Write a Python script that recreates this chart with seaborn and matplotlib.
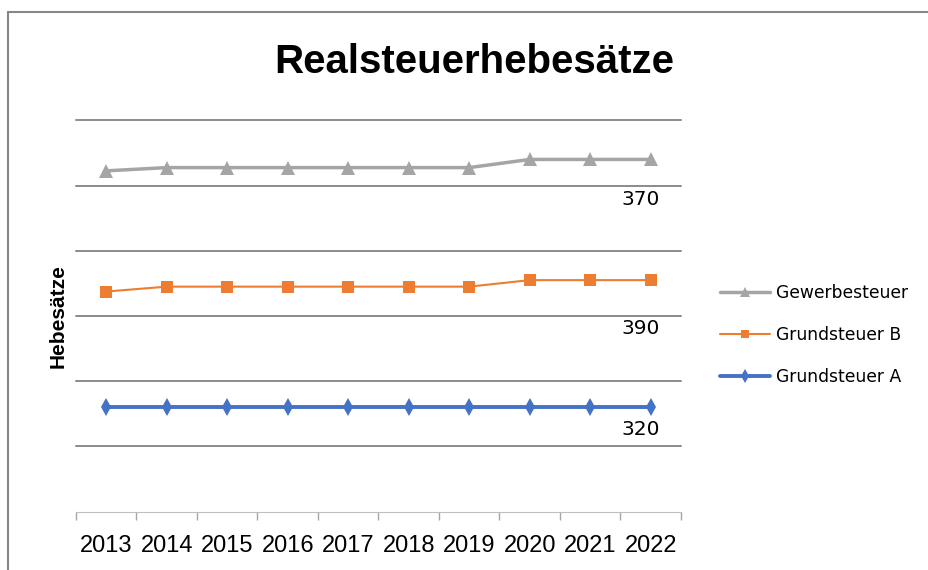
import matplotlib

matplotlib.use("Agg")
import matplotlib.pyplot as plt
import pandas as pd
import seaborn as sns
from matplotlib.lines import Line2D

# values (stacked line chart, Excel style)
years = ["2013", "2014", "2015", "2016", "2017", "2018", "2019", "2020", "2021", "2022"]
grundsteuer_a = [320, 320, 320, 320, 320, 320, 320, 320, 320, 320]
grundsteuer_b = [355, 370, 370, 370, 370, 370, 370, 390, 390, 390]
gewerbesteuer = [370, 365, 365, 365, 365, 365, 365, 370, 370, 370]
y_gridlines = [200, 400, 600, 800, 1000, 1200]

df = pd.DataFrame(
    {
        "idx": range(len(years)),
        "Grundsteuer A": grundsteuer_a,
        "Grundsteuer B": grundsteuer_b,
        "Gewerbesteuer": gewerbesteuer,
    }
)
# stacked: each series sits on top of the previous ones
order = ["Grundsteuer A", "Grundsteuer B", "Gewerbesteuer"]
stacked = df[order].cumsum(axis=1)
stacked["idx"] = df["idx"]

sns.set_style("white")
plt.rcParams["font.family"] = ["DejaVu Sans"]
plt.rcParams["text.color"] = "black"

W, H = 929, 570
fig = plt.figure(figsize=(W / 100, H / 100), dpi=100)
ax = fig.add_axes([76 / W, 1 - 511.7 / H, (681 - 76) / W, (511.7 - 120.3) / H])

styles = {
    "Grundsteuer A": dict(color="#4472C4", lw=2.8, marker="d", ms=9, dy=16.2),
    "Grundsteuer B": dict(color="#ED7D31", lw=1.5, marker="s", ms=8.5, dy=34.6),
    "Gewerbesteuer": dict(color="#A5A5A5", lw=2.5, marker="^", ms=9.5, dy=28.8),
}

for name in order:
    st = styles[name]
    sns.lineplot(
        data=stacked, x="idx", y=name, ax=ax, color=st["color"], lw=st["lw"],
        marker=st["marker"], markersize=st["ms"], markeredgewidth=0, label=name,
    )
    # value label under the last point
    last = stacked[name].iloc[-1]
    ax.annotate(
        str(df[name].iloc[-1]), xy=(stacked["idx"].iloc[-1], last),
        xytext=(-7.2, -st["dy"]), textcoords="offset points",
        ha="center", va="center", fontsize=14.5, color="black",
    )

ax.set_xlim(-0.5, len(years) - 0.5)
ax.set_ylim(0, 1200)
ax.set_yticks(y_gridlines)
ax.set_yticklabels([])
ax.tick_params(axis="y", length=0)
ax.yaxis.grid(True, color="#8A8A8A", lw=1.4)
ax.xaxis.grid(False)
for gl in ax.get_ygridlines():
    gl.set_clip_on(False)

# category boundaries as tick marks, labels on the category centres
ax.set_xticks([i - 0.5 for i in range(len(years) + 1)])
ax.set_xticklabels([])
ax.set_xticks(range(len(years)), minor=True)
ax.set_xticklabels(years, minor=True, fontsize=17,
                   family=["Liberation Sans", "DejaVu Sans"], color="black")
ax.tick_params(axis="x", which="major", direction="out", length=5.8, width=1,
               color="#A6A6A6", bottom=True)
ax.tick_params(axis="x", which="minor", length=0, pad=16.5)

for side in ["left", "right", "top"]:
    ax.spines[side].set_visible(False)
ax.spines["bottom"].set_color("#BFBFBF")
ax.spines["bottom"].set_linewidth(0.8)
ax.set_xlabel("")
ax.set_ylabel("")

fig.text(474 / W, 1 - 62 / H, "Realsteuerhebesätze", ha="center", va="center",
         fontsize=29, fontweight="bold", color="black",
         family=["Liberation Sans", "DejaVu Sans"])
fig.text(58 / W, 1 - 316 / H, "Hebesätze", rotation=90, ha="center", va="center",
         fontsize=15, fontweight="bold", color="black",
         family=["Liberation Sans", "DejaVu Sans"])

handles, labels = ax.get_legend_handles_labels()
leg = ax.legend(
    handles[::-1], labels[::-1], loc="upper left",
    bbox_to_anchor=(720 / W, 1 - 284 / H), bbox_transform=fig.transFigure,
    frameon=False, fontsize=12.3, handlelength=2.9, handletextpad=0.35,
    labelspacing=1.4, borderpad=0, borderaxespad=0, markerscale=0.75,
)
for t in leg.get_texts():
    t.set_color("black")

# outer chart frame (only top and left edges are visible)
fig.add_artist(Line2D([8 / W, 8 / W], [0, 1 - 12 / H], transform=fig.transFigure,
                      color="#878787", lw=1.5))
fig.add_artist(Line2D([8 / W, 1], [1 - 12 / H, 1 - 12 / H], transform=fig.transFigure,
                      color="#878787", lw=1.5))

fig.savefig("out.png", dpi=100)
